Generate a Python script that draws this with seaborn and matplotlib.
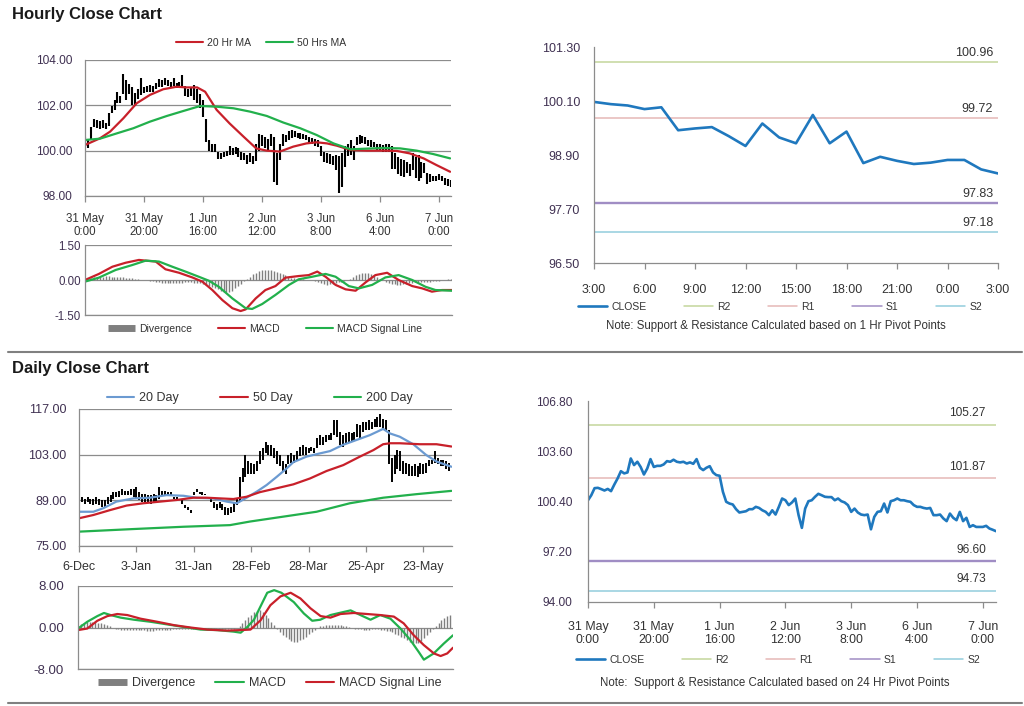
import numpy as np
import pandas as pd
import seaborn as sns
import matplotlib.pyplot as plt
from matplotlib.lines import Line2D

# ---------------- Hourly data : 31 May 0:00 -> 7 Jun 0:00 (one value per hour) ----------------
hour_tick_labels = ['31 May\n0:00', '31 May\n20:00', '1 Jun\n16:00', '2 Jun\n12:00',
                    '3 Jun\n8:00', '6 Jun\n4:00', '7 Jun\n0:00']

close_h = [100.48, 100.8, 101.25, 101.27, 101.19, 101.1, 101.2, 101.06, 101.48, 101.87,
           102.33, 102.19, 102.25, 103.14, 102.72, 102.93, 102.6, 102.12, 102.5, 103.1,
           102.6, 102.67, 102.67, 102.76, 102.97, 102.93, 103.06, 102.93, 102.89, 102.93,
           102.82, 102.89, 102.8, 103.1, 102.55, 102.4, 102.55, 102.65, 102.25, 102.08,
           102.04, 101.02, 100.38, 100.27, 100.21, 99.91, 99.7, 99.74, 99.78, 99.91,
           99.91, 100.06, 99.99, 99.84, 99.74, 99.53, 99.84, 99.57, 100.06, 100.59,
           100.48, 100.17, 100.34, 100.59, 99.53, 98.72, 99.95, 100.42, 100.48, 100.7,
           100.89, 100.8, 100.7, 100.68, 100.68, 100.48, 100.59, 100.42, 100.34, 100.17,
           99.74, 99.95, 99.7, 99.57, 99.53, 99.57, 98.63, 99.42, 99.74, 99.78,
           100.27, 99.7, 100.42, 100.48, 100.59, 100.48, 100.48, 100.42, 100.38, 100.17,
           100.06, 100.06, 99.99, 99.95, 99.99, 99.53, 99.53, 99.57, 99.32, 99.15,
           99.63, 99.36, 99.21, 99.74, 99.15, 99.36, 98.78, 98.89, 98.78, 98.78,
           98.78, 98.85, 98.68, 98.6, 98.51]

hi_h = [100.6, 100.5, 101.05, 101.4, 101.35, 101.3, 101.35, 101.2, 101.65, 101.95,
        102.25, 102.6, 102.4, 103.4, 103.1, 102.95, 102.8, 102.55, 102.7, 103.2,
        102.8, 102.85, 102.9, 102.85, 103.0, 103.15, 103.1, 103.2, 103.1, 103.05,
        103.2, 103.0, 103.05, 103.35, 102.85, 102.7, 102.8, 102.9, 102.7, 102.5,
        102.25, 101.4, 100.45, 100.3, 100.3, 99.95, 99.9, 99.95, 100.0, 100.2,
        100.1, 100.15, 100.1, 99.95, 99.9, 99.8, 99.9, 99.75, 100.3, 100.75,
        100.7, 100.6, 100.5, 100.75, 100.6, 99.9, 100.3, 100.75, 100.7, 100.85,
        100.9, 100.85, 100.8, 100.8, 100.75, 100.7, 100.6, 100.55, 100.5, 100.45,
        100.2, 99.95, 99.9, 99.85, 99.75, 99.8, 99.75, 99.9, 100.2, 100.3,
        100.47, 100.2, 100.6, 100.7, 100.65, 100.6, 100.47, 100.45, 100.4, 100.3,
        100.3, 100.25, 100.3, 100.3, 100.2, 99.9, 99.7, 99.65, 99.6, 99.5,
        99.4, 99.9, 99.7, 99.8, 99.5, 99.45, 99.0, 98.95, 98.9, 98.9,
        98.95, 98.9, 98.8, 98.75, 98.7]

lo_h = [100.2, 100.1, 100.5, 101.05, 101.0, 100.95, 101.0, 100.95, 101.1, 101.65,
        101.8, 102.1, 102.1, 102.5, 102.25, 102.5, 102.0, 101.95, 102.3, 102.45,
        102.55, 102.6, 102.6, 102.6, 102.7, 102.8, 102.8, 102.9, 102.85, 102.8,
        102.85, 102.75, 102.8, 102.75, 102.4, 102.35, 102.4, 102.25, 102.1, 101.9,
        101.5, 100.4, 100.0, 99.95, 99.95, 99.65, 99.65, 99.7, 99.75, 99.8,
        99.8, 99.85, 99.7, 99.6, 99.6, 99.4, 99.5, 99.4, 99.55, 100.0,
        100.2, 100.1, 100.0, 100.2, 98.6, 98.5, 99.6, 100.2, 100.4, 100.45,
        100.55, 100.6, 100.55, 100.5, 100.5, 100.45, 100.3, 100.3, 100.2, 100.15,
        99.75, 99.5, 99.45, 99.4, 99.35, 99.15, 98.15, 98.4, 99.3, 99.75,
        99.8, 99.6, 100.25, 100.3, 100.35, 100.3, 100.2, 100.15, 100.15, 100.0,
        100.0, 99.95, 99.95, 99.95, 99.2, 99.2, 98.95, 98.9, 98.85, 99.0,
        98.9, 99.15, 98.8, 98.65, 98.8, 99.0, 98.55, 98.6, 98.65, 98.65,
        98.7, 98.65, 98.5, 98.45, 98.4]

ma20_h_x = [0, 5, 8.5, 13, 17.5, 22, 26.5, 31, 34.5, 38, 40.7, 44.6, 49, 53.7, 58,
            61.6, 66, 70.6, 75, 78.5, 82, 85.3, 90, 95.5, 101, 105.6, 110, 114.7, 119, 123.7]
ma20_h = [100.25, 100.54, 100.84, 101.43, 102.09, 102.46, 102.71, 102.82, 102.79, 102.79,
          102.6, 101.8, 101.2, 100.62, 100.1, 100.0, 99.96, 100.18, 100.32, 100.37,
          100.32, 100.22, 100.03, 100.0, 100.0, 99.99, 99.88, 99.66, 99.37, 99.07]

ma50_h_x = [0, 5.1, 10.7, 16.4, 22, 27.7, 33.3, 39, 44.6, 50.3, 56, 61.6, 67.2, 72.9,
            78.5, 84.2, 90, 95.5, 101, 106.8, 112.4, 118, 123.7]
ma50_h = [100.47, 100.53, 100.76, 100.99, 101.28, 101.53, 101.75, 101.97, 101.94, 101.87,
          101.72, 101.53, 101.24, 100.99, 100.69, 100.32, 100.06, 100.09, 100.12, 100.1,
          100.0, 99.85, 99.66]

macd_h_x = [0, 4.7, 9.3, 13.8, 18.3, 20.6, 24, 27.3, 31.9, 36.4, 39.8, 43.2, 46.6, 50,
            52.8, 54.5, 57.9, 61.2, 64.6, 68, 72.5, 75.9, 78.8, 81.6, 85, 88.4, 91.8,
            95.1, 98.5, 102.5, 106.4, 111, 114.4, 117.7, 121.1, 124.5]
macd_h = [0.0, 0.26, 0.57, 0.74, 0.86, 0.83, 0.79, 0.46, 0.31, 0.11, -0.07, -0.43, -0.86,
          -1.21, -1.33, -1.26, -0.79, -0.43, -0.26, 0.1, 0.17, 0.21, 0.36, 0.14, -0.21,
          -0.4, -0.46, -0.11, 0.21, 0.31, 0.0, -0.26, -0.36, -0.5, -0.43, -0.43]

signal_h_x = [0, 4.7, 10.4, 16, 20.6, 25.1, 29.6, 34.1, 38.6, 42, 45.4, 50, 54.5, 56.7,
              60.1, 64.6, 69.2, 72.5, 77.1, 81.6, 85, 89.5, 92.9, 97.4, 101.9, 106.4,
              111, 115.5, 118.9, 124.5]
signal_h = [-0.07, 0.1, 0.43, 0.64, 0.83, 0.79, 0.57, 0.36, 0.14, -0.03, -0.29, -0.79,
            -1.21, -1.24, -1.03, -0.64, -0.21, 0.03, 0.14, 0.26, 0.14, -0.26, -0.36,
            -0.21, 0.11, 0.21, 0.0, -0.29, -0.43, -0.46]

div_h = [0.05, 0.08, 0.1, 0.12, 0.13, 0.14, 0.15, 0.16, 0.16, 0.15, 0.15, 0.14, 0.13,
         0.12, 0.1, 0.08, 0.07, 0.05, 0.04, 0.02, 0.0, -0.02, -0.04, -0.06, -0.08, -0.1,
         -0.12, -0.13, -0.14, -0.14, -0.13, -0.12, -0.12, -0.11, -0.1, -0.1, -0.1, -0.11, -0.12,
         -0.14, -0.17, -0.2, -0.25, -0.3, -0.35, -0.4, -0.45, -0.5, -0.52, -0.5, -0.45,
         -0.35, -0.25, -0.15, -0.05, 0.05, 0.15, 0.25, 0.32, 0.38, 0.42, 0.45, 0.45, 0.43,
         0.4, 0.36, 0.3, 0.25, 0.2, 0.15, 0.1, 0.07, 0.05, 0.04, 0.03, 0.02, 0.02,
         0.0, -0.05, -0.1, -0.14, -0.17, -0.2, -0.18, -0.15, -0.12, -0.1, -0.08, -0.05, 0.0,
         0.05, 0.12, 0.2, 0.26, 0.3, 0.3, 0.28, 0.25, 0.2, 0.12, 0.05,
         -0.02, -0.08, -0.12, -0.16, -0.18, -0.2, -0.2, -0.18, -0.16, -0.14,
         -0.12, -0.1, -0.1, -0.1, -0.09, -0.08, -0.07, -0.06, -0.05, -0.03,
         0.0, 0.02, 0.03, 0.04]

# ---------------- 1 Hr pivot chart (3:00 -> 3:00) ----------------
pivot1_tick_labels = ['3:00', '6:00', '9:00', '12:00', '15:00', '18:00', '21:00', '0:00', '3:00']
close_1h = [100.08, 100.03, 100.0, 99.92, 99.96, 99.45, 99.49, 99.52, 99.32, 99.1,
            99.6, 99.29, 99.16, 99.79, 99.16, 99.42, 98.72, 98.86, 98.77, 98.7,
            98.73, 98.79, 98.79, 98.58, 98.49]
pivots_1h = {'R2': 100.96, 'R1': 99.72, 'S1': 97.83, 'S2': 97.18}
pivots_24h = {'R2': 105.27, 'R1': 101.87, 'S1': 96.60, 'S2': 94.73}

# ---------------- Daily data : 6-Dec -> early June (trading days) ----------------
day_tick_labels = ['6-Dec', '3-Jan', '31-Jan', '28-Feb', '28-Mar', '25-Apr', '23-May']

hi_d = [90.5, 90, 89.5, 90, 89.5, 89.5, 90, 89.5, 89, 89,
        90, 90.5, 91.5, 91.5, 92, 92.5, 92, 92, 92.5, 92.5,
        93, 91.5, 91, 91, 90.5, 90.5, 91, 90.5, 93, 92,
        92, 91.5, 91.5, 90, 90, 89.5, 89, 87.5, 87, 86,
        91.5, 92.5, 91.5, 91.5, 91, 90, 89.5, 88.5, 88, 88.5,
        88, 87, 86.5, 87, 88.5, 89.5, 96, 99, 103, 101,
        100.5, 100, 101, 104, 105, 107, 106, 106, 105, 104,
        103, 101, 100, 103, 103.5, 103, 104, 105.5, 106, 105.5,
        105, 105.5, 105, 108, 109, 108.5, 109, 109, 109.5, 113.5,
        113.5, 110, 109, 109.5, 110, 109.5, 110, 112.5, 112, 113,
        113, 113.5, 113, 114, 114.5, 115.5, 114, 113.5, 110.5, 102,
        103, 104.5, 104, 101, 100.5, 100, 99.5, 100, 99.5, 100.5,
        100, 100.5, 101.5, 101.5, 104, 102, 101.5, 101.5, 101, 100.5]

lo_d = [88.5, 88.5, 88, 88.5, 88, 87.5, 88, 87.5, 87, 87,
        88, 88.5, 89.5, 90, 90, 90.5, 90.5, 90.5, 90.5, 90,
        89.5, 89, 88.5, 88.5, 88.5, 88, 88.5, 88.5, 89.5, 90.5,
        90.5, 90.5, 90.5, 89.5, 89.5, 89, 88, 86.5, 86, 85,
        90.5, 91.5, 91, 90.5, 90.5, 89.5, 88.5, 86.5, 86, 86.5,
        86, 84.5, 84.5, 85, 85.5, 87.5, 88.5, 94.5, 96, 97,
        97, 97, 98, 100, 101.5, 103.5, 103, 102.5, 102, 100,
        99.5, 98, 97, 100, 100.5, 100.5, 101, 102.5, 103, 103,
        103.5, 104, 103.5, 105, 106, 106, 107, 107.5, 107.5, 109,
        108.5, 106, 105.5, 106.5, 107, 107, 107.5, 108.5, 108, 110,
        110.5, 110.5, 111, 111.5, 111.5, 111.5, 111, 110.5, 100, 94.5,
        97, 98.5, 98, 97, 97, 96.5, 96.5, 96.5, 96, 97,
        97, 97.5, 99.5, 100, 100.5, 100, 99.5, 99.5, 98.5, 98]

ma20_d_x = [0, 5, 8.5, 13, 19, 24.7, 30.5, 36.4, 41, 46.8, 51.5, 55, 58.4, 62, 65.4,
            68.9, 72.4, 74.7, 79.3, 84, 87.5, 92, 96.7, 101.4, 106, 108.4, 111.8, 116.5,
            121, 124.6, 129.8]
ma20_d = [85.5, 85.5, 86.6, 88.6, 89.6, 89.8, 90.6, 90.4, 89.8, 89.6, 88.6, 88.1, 89.8,
          91.7, 93.7, 96.2, 98.8, 100.7, 102.4, 103.4, 104.1, 106.0, 107.5, 109.0, 110.9,
          109.5, 108.5, 106.2, 102.9, 100.9, 99.3]

ma50_d_x = [0, 5, 10.8, 16.6, 22.4, 28.2, 34, 39.8, 44.5, 49.1, 53.8, 58.4, 63, 68.9,
            74.7, 80.5, 86.3, 92.1, 97.9, 102.6, 106, 108.4, 111.8, 118.8, 124.6, 129.8]
ma50_d = [83.5, 84.5, 86.0, 87.4, 88.1, 88.6, 89.1, 89.8, 89.8, 89.6, 89.4, 90.1, 91.5,
          92.7, 93.9, 95.7, 98.0, 99.8, 102.4, 104.4, 106.2, 106.5, 106.5, 106.2, 106.2, 105.5]

ma200_d_x = [0, 19, 36.4, 52.6, 59.6, 71.2, 82.8, 94.4, 106, 117.7, 129.8]
ma200_d = [79.4, 80.2, 80.9, 81.4, 82.5, 84.0, 85.5, 88.1, 89.8, 90.9, 91.9]

macd_d_x = [0, 3.2, 6.7, 9, 11.3, 14.8, 19.4, 25.2, 30.9, 36.7, 42.5, 48.3, 54, 56.4,
            58.7, 61, 63.3, 65.6, 68, 70.5, 74.8, 78.3, 81.2, 84, 87.5, 89.8, 94.5, 97.9,
            101.4, 104.8, 108.3, 111.8, 115.2, 118.1, 119.9, 123.3, 126.8, 130]
macd_d = [-0.2, 1.1, 2.2, 2.8, 2.4, 1.9, 1.5, 1.1, 0.6, 0.1, -0.4, -0.5, -0.8, -1.0,
          0.1, 1.5, 4.1, 6.7, 7.2, 6.7, 4.9, 2.7, 1.3, 1.5, 2.4, 2.7, 3.3, 2.4,
          1.5, 2.4, 1.7, -0.2, -2.4, -4.7, -6.2, -5.0, -3.1, -1.5]

signal_d_x = [0, 3.2, 6.7, 10.2, 13.6, 17.1, 21.7, 27.5, 33.3, 39, 44.8, 51.7, 56.4,
              59.8, 63.3, 66.7, 70.2, 73.7, 77.1, 80.6, 84.1, 87.5, 91, 95.6, 100.2,
              104.8, 109.5, 112.9, 116.4, 119.9, 123.4, 125.7, 128, 130]
signal_d = [-0.5, -0.2, 1.3, 2.2, 2.6, 2.4, 1.7, 1.1, 0.45, 0.0, -0.4, -0.6, -0.5,
            -0.4, 1.4, 4.3, 6.0, 6.7, 5.6, 3.7, 2.2, 1.9, 2.6, 2.8, 2.6,
            2.4, 2.1, 0.8, -1.5, -3.4, -5.0, -5.5, -5.0, -3.9]

div_d = [0.3, 0.6, 0.8, 1.0, 1.1, 1.1, 1.0, 0.9, 0.8, 0.6, 0.4, 0.2, 0.0, -0.2, -0.3,
         -0.4, -0.4, -0.5, -0.5, -0.5, -0.5, -0.5, -0.5, -0.5, -0.6, -0.6, -0.6, -0.5, -0.5, -0.5, -0.4,
         -0.4, -0.4, -0.3, -0.3, -0.3, -0.3, -0.3, -0.3, -0.3, -0.3,
         -0.3, -0.3, -0.3, -0.3, -0.3, -0.3, -0.3, -0.3, -0.3, -0.3, -0.3, -0.3, -0.2, -0.2, -0.1,
         0.3, 0.8, 1.4, 2.0, 2.5, 2.9, 3.2, 3.3, 3.0, 2.5, 1.8, 1.0, 0.4, -0.2, -0.8, -1.4,
         -1.9, -2.3, -2.6, -2.7, -2.7, -2.5, -2.2, -1.8, -1.3, -0.8, -0.4, -0.1, 0.2, 0.3,
         0.4, 0.5, 0.5, 0.5, 0.5, 0.4, 0.3, 0.2, 0.1,
         -0.1, -0.2, -0.3, -0.3, -0.4, -0.4, -0.4, -0.3, -0.3, -0.3,
         -0.4, -0.5, -0.6, -0.7, -0.9, -1.2, -1.5, -1.8, -2.1, -2.4, -2.7, -2.9, -3.0,
         -2.9, -2.6, -2.1, -1.5, -0.9, -0.3, 0.3, 0.9, 1.4, 1.9, 2.3, 2.5]

# ---------------- colours ----------------
RED = '#C8202A'
GREEN = '#22B04C'
BLUE20 = '#6B9AD1'
CLOSE_C = '#1F78BE'
GREY = '#8C8C8C'
DIV_C = '#7F7F7F'
TXT = '#333333'
YTXT = '#403152'
PIV_C = {'R2': '#C3D69B', 'R1': '#E6B8B7', 'S1': '#A08DC4', 'S2': '#92CDDC'}
PIV_W = {'R2': 1.1, 'R1': 1.1, 'S1': 1.7, 'S2': 1.1}

sns.set_theme(style='white')
plt.rcParams['font.family'] = ['Liberation Sans', 'DejaVu Sans']

fig = plt.figure(figsize=(10.24, 7.06), dpi=100)


def box(l, t, r, b):
    # pixel box -> figure fraction
    return [l / 1024, 1 - b / 706, (r - l) / 1024, (b - t) / 706]


def style(ax, grid=True, ypad=9, yfs=8, xfs=8.5, xpad=8):
    for s in ['top', 'right']:
        ax.spines[s].set_visible(False)
    for s in ['left', 'bottom']:
        ax.spines[s].set_color(GREY)
        ax.spines[s].set_linewidth(0.9)
    if grid:
        ax.yaxis.grid(True, color=GREY, lw=0.9)
    ax.xaxis.grid(False)
    ax.tick_params(axis='x', direction='out', length=4, width=0.9, color=GREY,
                   labelcolor=TXT, labelsize=xfs, pad=xpad, bottom=True)
    ax.tick_params(axis='y', length=0, labelcolor=YTXT, labelsize=yfs, pad=ypad)
    ax.set_xlabel('')
    ax.set_ylabel('')


def fig_legend(handles, labels, cx, cy, fs, cs, hl=2.6):
    fig.legend(handles, labels, loc='center', bbox_to_anchor=(cx / 1024, 1 - cy / 706),
               ncol=len(labels), frameon=False, fontsize=fs, handlelength=hl,
               handletextpad=0.4, columnspacing=cs, labelcolor=TXT,
               borderpad=0, borderaxespad=0)


def line(c, w=1.5):
    return Line2D([0], [0], color=c, lw=w)


div_handle = Line2D([0], [0], color=DIV_C, lw=5, solid_capstyle='butt')

# ================= Hourly close chart =================
hours = np.arange(len(close_h))
ax1 = fig.add_axes(box(85, 60, 451, 196))
ax1.vlines(hours, lo_h, hi_h, color='black', lw=1.5)
sns.lineplot(x=ma20_h_x, y=ma20_h, ax=ax1, color=RED, lw=1.6)
sns.lineplot(x=ma50_h_x, y=ma50_h, ax=ax1, color=GREEN, lw=1.6)
ax1.set_xlim(0, 124)
ax1.set_ylim(98, 104)
ax1.set_yticks([98, 100, 102, 104])
ax1.set_yticklabels(['98.00', '100.00', '102.00', '104.00'])
ax1.set_xticks(range(0, 121, 20))
ax1.set_xticklabels(hour_tick_labels, linespacing=1.1)
style(ax1, xfs=8.3, yfs=8.6)
fig_legend([line(RED), line(GREEN)], ['20 Hr MA', '50 Hrs MA'], 261, 43, 7.5, 1.4)

ax2 = fig.add_axes(box(85, 245, 452, 315))
ax2.vlines(hours, 0, div_h, color=DIV_C, lw=1.0)
sns.lineplot(x=macd_h_x, y=macd_h, ax=ax2, color=RED, lw=1.6)
sns.lineplot(x=signal_h_x, y=signal_h, ax=ax2, color=GREEN, lw=1.6)
ax2.set_xlim(0, 124.5)
ax2.set_ylim(-1.5, 1.5)
ax2.set_yticks([-1.5, 0, 1.5])
ax2.set_yticklabels(['-1.50', '0.00', '1.50'])
ax2.set_xticks([])
style(ax2, ypad=3, yfs=8.3)
fig_legend([div_handle, line(RED), line(GREEN)], ['Divergence', 'MACD', 'MACD Signal Line'],
           265, 329, 7.5, 2.5)

# ================= 1 Hr pivot chart =================
ax3 = fig.add_axes(box(594, 47, 998, 263))
for k, v in pivots_1h.items():
    ax3.axhline(v, color=PIV_C[k], lw=PIV_W[k])
    ax3.annotate(f'{v:.2f}', xy=(0.988, v), xycoords=ax3.get_yaxis_transform(),
                 xytext=(0, 2.5), textcoords='offset points', ha='right', va='bottom',
                 fontsize=9, color=TXT)
sns.lineplot(x=np.arange(len(close_1h)), y=close_1h, ax=ax3, color=CLOSE_C, lw=1.9)
ax3.set_xlim(0, 24)
ax3.set_ylim(96.5, 101.3)
ax3.set_yticks([96.5, 97.7, 98.9, 100.1, 101.3])
ax3.set_yticklabels(['96.50', '97.70', '98.90', '100.10', '101.30'])
ax3.set_xticks(range(0, 25, 3))
ax3.set_xticklabels(pivot1_tick_labels)
style(ax3, grid=False, ypad=10, yfs=9, xfs=9, xpad=11)
fig_legend([line(CLOSE_C, 1.9)] + [line(PIV_C[k], 1.1) for k in pivots_1h],
           ['CLOSE', 'R2', 'R1', 'S1', 'S2'], 780, 307, 7.5, 3.6, hl=2.8)
fig.text(776 / 1024, 1 - 326 / 706, 'Note: Support & Resistance Calculated based on 1 Hr Pivot Points',
         ha='center', va='center', fontsize=8.3, color=TXT)

# ================= Daily close chart =================
days = np.arange(len(hi_d))
ax4 = fig.add_axes(box(79, 409, 452, 546))
ax4.vlines(days, lo_d, hi_d, color='black', lw=1.4)
sns.lineplot(x=ma20_d_x, y=ma20_d, ax=ax4, color=BLUE20, lw=1.6)
sns.lineplot(x=ma50_d_x, y=ma50_d, ax=ax4, color=RED, lw=1.6)
sns.lineplot(x=ma200_d_x, y=ma200_d, ax=ax4, color=GREEN, lw=1.6)
ax4.set_xlim(0, 130)
ax4.set_ylim(75, 117)
ax4.set_yticks([75, 89, 103, 117])
ax4.set_yticklabels(['75.00', '89.00', '103.00', '117.00'])
ax4.set_xticks(range(0, 121, 20))
ax4.set_xticklabels(day_tick_labels)
style(ax4, xfs=9, xpad=7, yfs=9)
fig_legend([line(BLUE20), line(RED), line(GREEN)], ['20 Day', '50 Day', '200 Day'],
           260, 398, 9, 3.3, hl=2.2)

ax5 = fig.add_axes(box(78, 586, 453, 669))
ax5.vlines(days, 0, div_d, color=DIV_C, lw=1.0)
sns.lineplot(x=macd_d_x, y=macd_d, ax=ax5, color=GREEN, lw=1.6)
sns.lineplot(x=signal_d_x, y=signal_d, ax=ax5, color=RED, lw=1.6)
ax5.set_xlim(0, 130)
ax5.set_ylim(-8, 8)
ax5.set_yticks([-8, 0, 8])
ax5.set_yticklabels(['-8.00', '0.00', '8.00'])
ax5.set_xticks([])
style(ax5, ypad=10, yfs=9.5)
fig_legend([div_handle, line(GREEN), line(RED)], ['Divergence', 'MACD', 'MACD Signal Line'],
           270, 683, 9, 1.6, hl=2.3)

# ================= 24 Hr pivot chart =================
ax6 = fig.add_axes(box(588, 401, 996, 602))
for k, v in pivots_24h.items():
    ax6.axhline(v, color=PIV_C[k], lw=PIV_W[k])
    ax6.annotate(f'{v:.2f}', xy=(0.975, v), xycoords=ax6.get_yaxis_transform(),
                 xytext=(0, 4), textcoords='offset points', ha='right', va='bottom',
                 fontsize=8.6, color=TXT)
sns.lineplot(x=hours, y=close_h, ax=ax6, color=CLOSE_C, lw=1.9)
ax6.set_xlim(0, 124)
ax6.set_ylim(94, 106.8)
ax6.set_yticks([94, 97.2, 100.4, 103.6, 106.8])
ax6.set_yticklabels(['94.00', '97.20', '100.40', '103.60', '106.80'])
ax6.set_xticks(range(0, 121, 20))
ax6.set_xticklabels(hour_tick_labels, linespacing=1.1)
style(ax6, grid=False, ypad=11, yfs=8.6, xfs=8.9, xpad=10)
fig_legend([line(CLOSE_C, 1.9)] + [line(PIV_C[k], 1.1) for k in pivots_24h],
           ['CLOSE', 'R2', 'R1', 'S1', 'S2'], 778, 660, 7.5, 3.6, hl=2.8)
fig.text(775 / 1024, 1 - 683 / 706, 'Note:  Support & Resistance Calculated based on 24 Hr Pivot Points',
         ha='center', va='center', fontsize=8.3, color=TXT)

# ================= titles and separators =================
fig.text(12 / 1024, 1 - 15 / 706, 'Hourly Close Chart', fontsize=12, fontweight='bold',
         va='center', ha='left', color='#1A1A1A')
fig.text(12 / 1024, 1 - 369 / 706, 'Daily Close Chart', fontsize=12, fontweight='bold',
         va='center', ha='left', color='#1A1A1A')
for y in (352, 703):
    fig.add_artist(Line2D([8 / 1024, 1022 / 1024], [1 - y / 706, 1 - y / 706],
                          color='#808080', lw=1.5))

fig.savefig('out.png', dpi=100)
